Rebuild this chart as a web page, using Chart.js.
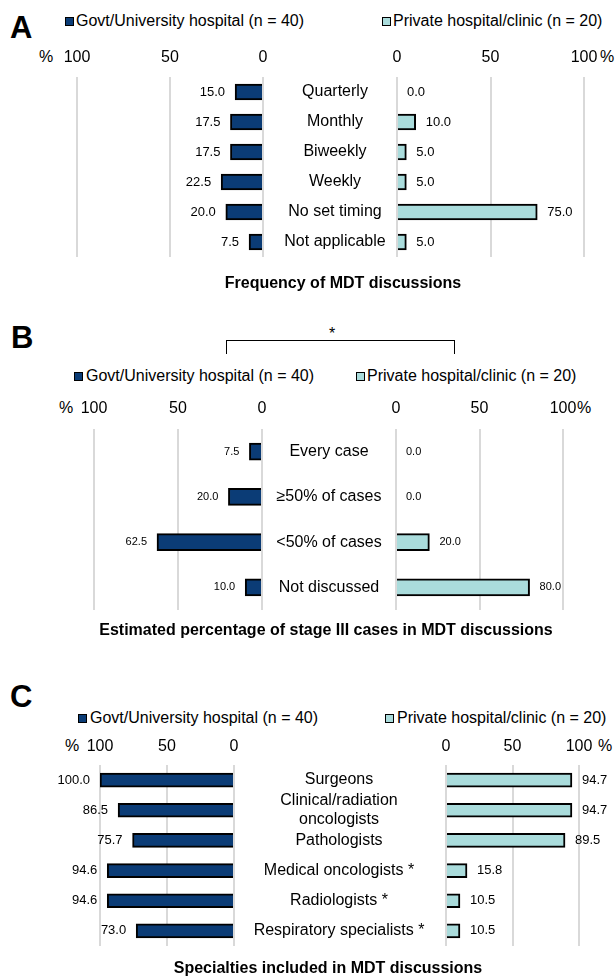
<!DOCTYPE html>
<html>
<head>
<meta charset="utf-8">
<script src="https://cdn.jsdelivr.net/npm/chart.js@4.4.1/dist/chart.umd.min.js"></script>
<style>
  html, body { margin: 0; padding: 0; background: #fff; }
  #fig { position: relative; width: 616px; height: 977px; overflow: hidden;
         font-family: "Liberation Sans", Arial, sans-serif; color: #000; }
  #fig .t { position: absolute; white-space: nowrap; }
  #fig canvas { position: absolute; }
  .letter { font-weight: bold; font-size: 31px; line-height: 32px; }
  .leg { font-size: 16px; line-height: 18px; }
  .pct { font-size: 16px; line-height: 18px; }
  .ttl { font-weight: bold; font-size: 16px; line-height: 18px; text-align: center; width: 600px; }
  .sq { position: absolute; width: 9px; height: 9px; box-sizing: border-box; border: 1.5px solid #000; }
  .bracket { position: absolute; box-sizing: border-box; border: 1.5px solid #000; border-bottom: none; }
</style>
</head>
<body>
<div id="fig">
  <!-- Panel A -->
  <div class="t letter" style="left:10px;top:12px;">A</div>
  <div class="sq" style="left:65px;top:17px;background:#0b3c76;"></div>
  <div class="t leg" style="left:76px;top:12px;">Govt/University hospital (n = 40)</div>
  <div class="sq" style="left:382px;top:17px;background:#aadcdc;"></div>
  <div class="t leg" style="left:393px;top:12px;">Private hospital/clinic (n = 20)</div>
  <div class="t pct" style="left:39px;top:48px;">%</div>
  <div class="t pct" style="left:600px;top:48px;">%</div>
  <canvas id="freqLeft"></canvas>
  <canvas id="freqRight"></canvas>
  <div class="t ttl" style="left:43px;top:274px;">Frequency of MDT discussions</div>

  <!-- Panel B -->
  <div class="t letter" style="left:11px;top:322px;">B</div>
  <div class="t" style="left:329px;top:325px;font-size:16px;line-height:18px;">*</div>
  <div class="bracket" style="left:226px;top:340px;width:229px;height:14px;"></div>
  <div class="sq" style="left:74px;top:372px;background:#0b3c76;"></div>
  <div class="t leg" style="left:86px;top:367px;">Govt/University hospital (n = 40)</div>
  <div class="sq" style="left:356px;top:372px;background:#aadcdc;"></div>
  <div class="t leg" style="left:367px;top:367px;">Private hospital/clinic (n = 20)</div>
  <div class="t pct" style="left:59px;top:399px;">%</div>
  <div class="t pct" style="left:577px;top:399px;">%</div>
  <canvas id="stageLeft"></canvas>
  <canvas id="stageRight"></canvas>
  <div class="t ttl" style="left:26px;top:621px;">Estimated percentage of stage III cases in MDT discussions</div>

  <!-- Panel C -->
  <div class="t letter" style="left:10px;top:681px;">C</div>
  <div class="sq" style="left:78px;top:714px;background:#0b3c76;"></div>
  <div class="t leg" style="left:90px;top:709px;">Govt/University hospital (n = 40)</div>
  <div class="sq" style="left:385px;top:714px;background:#aadcdc;"></div>
  <div class="t leg" style="left:397px;top:709px;">Private hospital/clinic (n = 20)</div>
  <div class="t pct" style="left:65px;top:737px;">%</div>
  <div class="t pct" style="left:598px;top:737px;">%</div>
  <canvas id="specLeft"></canvas>
  <canvas id="specRight"></canvas>
  <div class="t ttl" style="left:28px;top:959px;">Specialties included in MDT discussions</div>
</div>

<script>
// ---- Data ----
const axisTicks = [0, 50, 100];

const freqCategories = ['Quarterly', 'Monthly', 'Biweekly', 'Weekly', 'No set timing', 'Not applicable'];
const freqGovt    = [15.0, 17.5, 17.5, 22.5, 20.0, 7.5];
const freqPrivate = [0.0, 10.0, 5.0, 5.0, 75.0, 5.0];

const stageCategories = ['Every case', '\u226550% of cases', '<50% of cases', 'Not discussed'];
const stageGovt    = [7.5, 20.0, 62.5, 10.0];
const stagePrivate = [0.0, 0.0, 20.0, 80.0];

const specCategories = ['Surgeons', ['Clinical/radiation', 'oncologists'], 'Pathologists',
                        'Medical oncologists *', 'Radiologists *', 'Respiratory specialists *'];
const specGovt    = [100.0, 86.5, 75.7, 94.6, 94.6, 73.0];
const specPrivate = [94.7, 94.7, 89.5, 15.8, 10.5, 10.5];

// ---- Styling ----
const FAMILY = '"Liberation Sans", Arial, sans-serif';
const GOVT_COLOR = '#0b3c76';
const PRIVATE_COLOR = '#aadcdc';
const GRID_COLOR = '#d9d9d9';

// Writes each bar's value just beyond its outer end
const valueLabels = {
  id: 'valueLabels',
  afterDatasetsDraw(chart, args, opts) {
    const ctx = chart.ctx;
    const meta = chart.getDatasetMeta(0);
    const values = chart.data.datasets[0].data;
    ctx.save();
    ctx.font = opts.size + 'px ' + FAMILY;
    ctx.fillStyle = '#000';
    ctx.textBaseline = 'middle';
    ctx.textAlign = opts.side === 'left' ? 'right' : 'left';
    meta.data.forEach((bar, i) => {
      const x = opts.side === 'left' ? bar.x - opts.gap : bar.x + opts.gap;
      ctx.fillText(values[i].toFixed(1), x, bar.y);
    });
    ctx.restore();
  }
};

function widestLabel(labels, size) {
  const ctx = document.createElement('canvas').getContext('2d');
  ctx.font = size + 'px ' + FAMILY;
  let w = 0;
  labels.forEach(l => [].concat(l).forEach(s => { w = Math.max(w, ctx.measureText(s).width); }));
  return w;
}

// One half of a butterfly panel. side 'left' carries the category labels.
function sideChart(id, o) {
  const canvas = document.getElementById(id);
  canvas.width = o.box.w; canvas.height = o.box.h;
  canvas.style.left = o.box.x + 'px'; canvas.style.top = o.box.y + 'px';
  const isLeft = o.side === 'left';
  const axisTop = o.plotT - o.box.y;
  const labelAxisW = isLeft ? (o.box.x + o.box.w - o.plotR) : 0;
  const labelPad = isLeft ? (o.labelCenter - o.plotR - widestLabel(o.labels, 16) / 2) : 0;

  return new Chart(canvas, {
    type: 'bar',
    data: {
      labels: o.labels,
      datasets: [{
        data: o.values,
        backgroundColor: isLeft ? GOVT_COLOR : PRIVATE_COLOR,
        borderColor: '#000',
        borderWidth: 2,
        borderSkipped: 'start',
        barThickness: o.barPx
      }]
    },
    options: {
      responsive: false,
      animation: false,
      indexAxis: 'y',
      layout: {
        padding: {
          left: o.plotL - o.box.x,
          right: isLeft ? 0 : (o.box.x + o.box.w - o.plotR),
          top: 0,
          bottom: o.box.y + o.box.h - o.plotB
        }
      },
      plugins: {
        legend: { display: false },
        tooltip: { enabled: false },
        valueLabels: { side: o.side, gap: 10, size: o.valueSize }
      },
      scales: {
        x: {
          position: 'top',
          reverse: isLeft,
          min: 0, max: 100,
          afterBuildTicks: s => { s.ticks = axisTicks.map(v => ({ value: v })); },
          afterFit: s => { s.height = axisTop; },
          ticks: {
            color: '#000', font: { family: FAMILY, size: 16 },
            padding: o.tickPad, maxRotation: 0, autoSkip: false
          },
          grid: { color: GRID_COLOR, lineWidth: 2, drawTicks: false },
          border: { display: false }
        },
        y: {
          position: 'right',
          display: isLeft,
          afterFit: s => { s.width = labelAxisW; },
          grid: { display: false, drawTicks: false },
          border: { display: false },
          ticks: {
            color: '#000', font: { family: FAMILY, size: 16, lineHeight: 1.15 },
            crossAlign: 'center', padding: labelPad, autoSkip: false
          }
        }
      }
    },
    plugins: [valueLabels]
  });
}

// Panel A: frequency
sideChart('freqLeft', {
  side: 'left', labels: freqCategories, values: freqGovt,
  box: { x: 0, y: 30, w: 420, h: 275 }, plotL: 77, plotR: 263, plotT: 77, plotB: 257,
  labelCenter: 335, barPx: 16, tickPad: 10, valueSize: 13
});
sideChart('freqRight', {
  side: 'right', labels: freqCategories, values: freqPrivate,
  box: { x: 380, y: 30, w: 236, h: 232 }, plotL: 397, plotR: 584, plotT: 77, plotB: 257,
  barPx: 16, tickPad: 10, valueSize: 13
});

// Panel B: stage III share
sideChart('stageLeft', {
  side: 'left', labels: stageCategories, values: stageGovt,
  box: { x: 0, y: 390, w: 410, h: 268 }, plotL: 94, plotR: 262, plotT: 429, plotB: 610,
  labelCenter: 329, barPx: 17, tickPad: 11, valueSize: 11
});
sideChart('stageRight', {
  side: 'right', labels: stageCategories, values: stagePrivate,
  box: { x: 380, y: 390, w: 236, h: 225 }, plotL: 396, plotR: 563, plotT: 429, plotB: 610,
  barPx: 17, tickPad: 11, valueSize: 11
});

// Panel C: specialties
sideChart('specLeft', {
  side: 'left', labels: specCategories, values: specGovt,
  box: { x: 0, y: 728, w: 440, h: 266 }, plotL: 100, plotR: 234, plotT: 765, plotB: 946,
  labelCenter: 339, barPx: 14, tickPad: 9, valueSize: 13
});
sideChart('specRight', {
  side: 'right', labels: specCategories, values: specPrivate,
  box: { x: 430, y: 728, w: 186, h: 224 }, plotL: 446, plotR: 579, plotT: 765, plotB: 946,
  barPx: 14, tickPad: 9, valueSize: 13
});
</script>
</body>
</html>
